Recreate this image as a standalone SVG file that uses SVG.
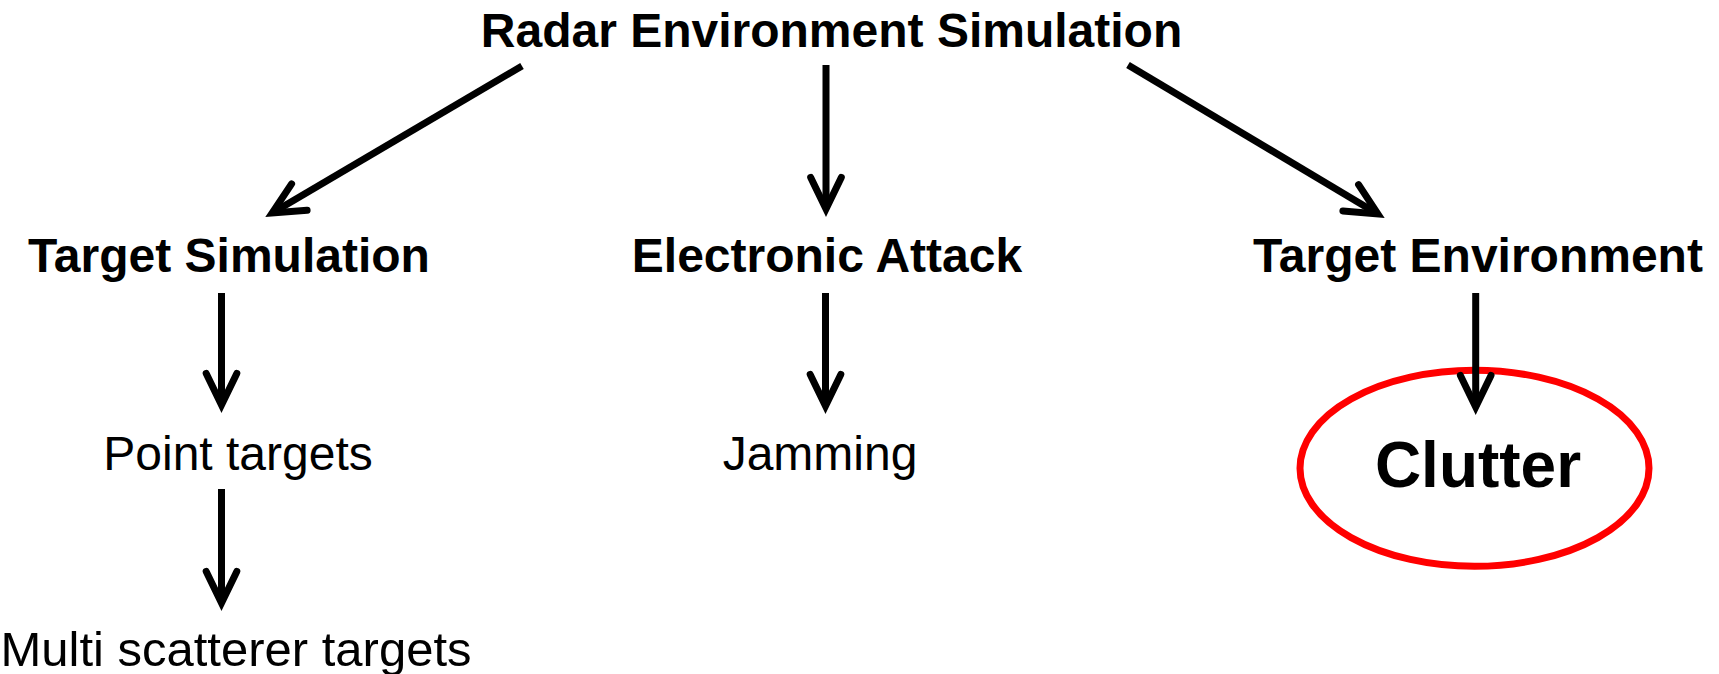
<svg xmlns="http://www.w3.org/2000/svg" width="1719" height="674" viewBox="0 0 1719 674">
  <style>
    .b { font-family: "Liberation Sans", Arial, sans-serif; font-weight: bold; font-size: 48px; fill: #000; text-anchor: middle; }
    .r { font-family: "Liberation Sans", Arial, sans-serif; font-size: 48px; fill: #000; text-anchor: middle; }
    .c { font-family: "Liberation Sans", Arial, sans-serif; font-weight: bold; font-size: 64px; fill: #000; text-anchor: middle; }
    .edge { stroke: #000; stroke-width: 7; fill: none; marker-end: url(#arr); }
  </style>
  <defs>
    <marker id="arr" markerUnits="userSpaceOnUse" orient="auto" viewBox="-45 -25 60 50" markerWidth="60" markerHeight="50" refX="0" refY="0" overflow="visible">
      <path d="M-31.5,-15.3 L0,0 L-31.5,15.3" fill="none" stroke="#000" stroke-width="7" stroke-linecap="round" stroke-linejoin="miter"/>
    </marker>
  </defs>
  <rect width="1719" height="674" fill="#fff"/>
  <g id="node-radar-env-sim">
    <text class="b" x="831.5" y="47">Radar Environment Simulation</text>
  </g>
  <g id="node-target-sim">
    <text class="b" x="229" y="272">Target Simulation</text>
  </g>
  <g id="node-electronic-attack">
    <text class="b" x="827" y="272">Electronic Attack</text>
  </g>
  <g id="node-target-env">
    <text class="b" x="1478" y="272">Target Environment</text>
  </g>
  <g id="node-point-targets">
    <text class="r" x="238" y="470">Point targets</text>
  </g>
  <g id="node-jamming">
    <text class="r" x="820" y="470">Jamming</text>
  </g>
  <g id="node-multi-scatterer">
    <text class="r" x="236" y="666" style="font-size:49px">Multi scatterer targets</text>
  </g>
  <g id="node-clutter">
    <ellipse cx="1474.5" cy="468.3" rx="174.5" ry="98" fill="none" stroke="#ff0000" stroke-width="7"/>
    <text class="c" x="1478" y="487">Clutter</text>
  </g>
  <g id="connectors">
    <path class="edge" d="M522,66 L272.2,213"/>
    <path class="edge" d="M826,65 L826,209"/>
    <path class="edge" d="M1128,65 L1377.8,213.9"/>
    <path class="edge" d="M221.5,293 L221.5,405"/>
    <path class="edge" d="M221.5,489 L221.5,603"/>
    <path class="edge" d="M825.5,293 L825.5,406"/>
    <path class="edge" d="M1475.7,293 L1475.7,407"/>
  </g>
</svg>
